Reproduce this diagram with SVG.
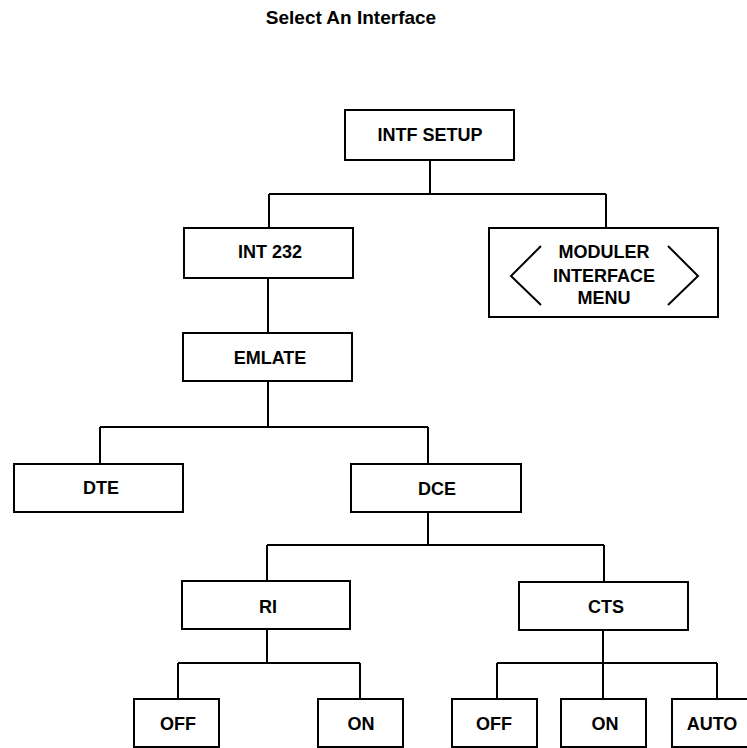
<svg xmlns="http://www.w3.org/2000/svg" width="747" height="748" viewBox="0 0 747 748">
<style>
.box{fill:#fff;stroke:#000;stroke-width:2}
.lbl{font-family:"Liberation Sans",Arial,sans-serif;font-weight:bold;font-size:18px;fill:#000;text-anchor:middle}
.ttl{font-family:"Liberation Sans",Arial,sans-serif;font-weight:bold;font-size:19px;fill:#000;text-anchor:middle}
.con{fill:none;stroke:#000;stroke-width:2}
</style>
<rect width="747" height="748" fill="#fff"/>
<text class="ttl" x="351" y="24">Select An Interface</text>
<g id="connectors">
<path class="con" d="M430 160V194M269 194H606M269 194V228M606 194V228"/>
<path class="con" d="M268 278V333"/>
<path class="con" d="M268 381V427M100 427H428M100 427V464M428 427V464"/>
<path class="con" d="M428 512V545M267 545H604M267 545V581M604 545V582"/>
<path class="con" d="M267 629V663M178 663H360M178 663V699M360 663V699"/>
<path class="con" d="M603 630V663M497 663H717M497 663V699M603 663V699M717 663V699"/>
</g>
<g id="intf-setup"><rect class="box" x="345" y="110" width="169" height="50"/><text class="lbl" x="430" y="141">INTF SETUP</text></g>
<g id="int232"><rect class="box" x="184" y="228" width="169" height="50"/><text class="lbl" x="270" y="258">INT 232</text></g>
<g id="moduler"><rect class="box" x="489" y="228" width="229" height="89"/>
<path class="con" d="M541 246L511 276L541 305M668 246L698 276L668 305"/>
<text class="lbl" x="604" y="258">MODULER</text><text class="lbl" x="604" y="282">INTERFACE</text><text class="lbl" x="604" y="304">MENU</text></g>
<g id="emlate"><rect class="box" x="183" y="333" width="169" height="48"/><text class="lbl" x="270" y="364">EMLATE</text></g>
<g id="dte"><rect class="box" x="14" y="464" width="169" height="48"/><text class="lbl" x="101" y="494">DTE</text></g>
<g id="dce"><rect class="box" x="351" y="464" width="170" height="48"/><text class="lbl" x="437" y="495">DCE</text></g>
<g id="ri"><rect class="box" x="182" y="581" width="168" height="48"/><text class="lbl" x="268" y="613">RI</text></g>
<g id="cts"><rect class="box" x="519" y="582" width="169" height="48"/><text class="lbl" x="606" y="613">CTS</text></g>
<g id="ri-off"><rect class="box" x="134" y="699" width="85" height="48"/><text class="lbl" x="178" y="730">OFF</text></g>
<g id="ri-on"><rect class="box" x="318" y="699" width="85" height="48"/><text class="lbl" x="361" y="730">ON</text></g>
<g id="cts-off"><rect class="box" x="452" y="699" width="85" height="48"/><text class="lbl" x="494" y="730">OFF</text></g>
<g id="cts-on"><rect class="box" x="561" y="699" width="85" height="48"/><text class="lbl" x="605" y="730">ON</text></g>
<g id="cts-auto"><rect class="box" x="672" y="699" width="90" height="48"/><text class="lbl" x="712" y="730">AUTO</text></g>
</svg>
